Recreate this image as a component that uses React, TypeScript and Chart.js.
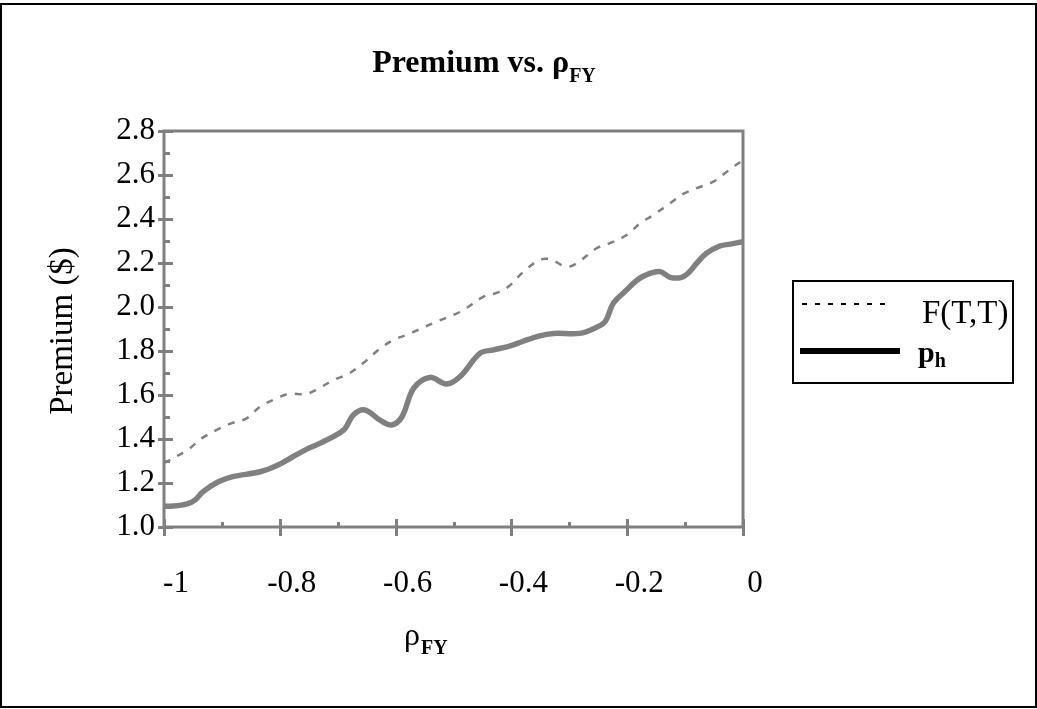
import React, { useEffect, useRef } from "react";
import { Chart, registerables } from "chart.js";

Chart.register(...registerables);

// F(T,T) series (dashed)
const fX = [-1.0, -0.958, -0.935, -0.903, -0.883, -0.857, -0.834, -0.805, -0.785, -0.754, -0.733, -0.705, -0.682, -0.653, -0.63, -0.604, -0.581, -0.555, -0.529, -0.5, -0.483, -0.448, -0.428, -0.405, -0.379, -0.351, -0.333, -0.305, -0.287, -0.253, -0.23, -0.201, -0.178, -0.155, -0.126, -0.103, -0.08, -0.051, -0.028, 0];
const fY = [1.29, 1.353, 1.403, 1.449, 1.472, 1.494, 1.547, 1.585, 1.605, 1.605, 1.63, 1.671, 1.695, 1.751, 1.805, 1.85, 1.873, 1.903, 1.934, 1.964, 1.986, 2.047, 2.062, 2.093, 2.161, 2.214, 2.217, 2.183, 2.199, 2.267, 2.29, 2.327, 2.38, 2.418, 2.471, 2.514, 2.54, 2.57, 2.615, 2.668];

// p_h series (solid)
const pX = [-1.0, -0.984, -0.96, -0.946, -0.933, -0.906, -0.881, -0.834, -0.803, -0.779, -0.754, -0.731, -0.69, -0.673, -0.653, -0.627, -0.607, -0.589, -0.569, -0.541, -0.512, -0.489, -0.454, -0.431, -0.402, -0.382, -0.353, -0.327, -0.282, -0.253, -0.238, -0.224, -0.204, -0.181, -0.161, -0.143, -0.126, -0.106, -0.092, -0.08, -0.063, -0.04, -0.022, 0];
const pY = [1.095, 1.095, 1.105, 1.123, 1.16, 1.206, 1.229, 1.251, 1.282, 1.317, 1.353, 1.38, 1.44, 1.509, 1.532, 1.486, 1.464, 1.501, 1.63, 1.68, 1.65, 1.683, 1.79, 1.805, 1.823, 1.842, 1.868, 1.88, 1.88, 1.908, 1.934, 2.017, 2.07, 2.126, 2.153, 2.161, 2.135, 2.135, 2.161, 2.199, 2.244, 2.277, 2.286, 2.297];

const xMin = -1;
const xMax = 0;
const xStep = 0.2;
const yMin = 1.0;
const yMax = 2.8;
const yStep = 0.2;

const titleMain = "Premium vs. ";
const rhoSymbol = "ρ";
const rhoSub = "FY";
const yTitle = "Premium ($)";
const legendF = "F(T,T)";
const legendP = "p";
const legendPSub = "h";

const SERIF = '"Liberation Serif", "Times New Roman", Times, serif';
const GREY = "#808080";

const decor = {
  id: "decor",
  beforeDatasetsDraw(chart: any) {
    const ctx = chart.ctx as CanvasRenderingContext2D;
    const { left, right, top, bottom } = chart.chartArea;
    const xs = chart.scales.x;
    const ys = chart.scales.y;
    ctx.save();
    ctx.strokeStyle = GREY;
    ctx.lineWidth = 3;
    ctx.strokeRect(left, top, right - left, bottom - top);
    // y ticks
    for (let i = 0; i <= Math.round((yMax - yMin) / 0.1); i++) {
      const v = yMin + i * 0.1;
      const py = Math.round(ys.getPixelForValue(v)) + 0.5;
      const major = i % 2 === 0;
      ctx.lineWidth = 3;
      ctx.beginPath();
      ctx.moveTo(major ? left - 6 : left, py);
      ctx.lineTo(major ? left + 9 : left + 6, py);
      ctx.stroke();
    }
    // x ticks
    for (let i = 0; i <= Math.round((xMax - xMin) / 0.1); i++) {
      const v = xMin + i * 0.1;
      const px = Math.round(xs.getPixelForValue(v)) + 0.5;
      const major = i % 2 === 0;
      ctx.beginPath();
      ctx.moveTo(px, major ? bottom - 8 : bottom - 5);
      ctx.lineTo(px, major ? bottom + 9 : bottom);
      ctx.stroke();
    }
    ctx.restore();
  },
  afterDraw(chart: any) {
    const ctx = chart.ctx as CanvasRenderingContext2D;
    ctx.save();
    // outer frame
    ctx.fillStyle = "#000";
    ctx.fillRect(0, 3, 1037, 2);
    ctx.fillRect(0, 706, 1037, 2);
    ctx.fillRect(0, 3, 2, 705);
    ctx.fillRect(1035, 3, 2, 705);

    // title
    ctx.textBaseline = "alphabetic";
    ctx.textAlign = "left";
    ctx.font = `bold 32px ${SERIF}`;
    const w1 = ctx.measureText(titleMain).width;
    const w2 = ctx.measureText(rhoSymbol).width;
    ctx.font = `bold 20px ${SERIF}`;
    const w3 = ctx.measureText(rhoSub).width;
    const total = w1 + w2 + w3;
    const tx = 484 - total / 2;
    ctx.font = `bold 32px ${SERIF}`;
    ctx.fillText(titleMain, tx, 72);
    ctx.fillText(rhoSymbol, tx + w1, 72);
    ctx.font = `bold 20px ${SERIF}`;
    ctx.fillText(rhoSub, tx + w1 + w2, 82);

    // x title
    ctx.font = `32px ${SERIF}`;
    const rw = ctx.measureText(rhoSymbol).width;
    ctx.fillText(rhoSymbol, 404, 645);
    ctx.font = `bold 20px ${SERIF}`;
    ctx.fillText(rhoSub, 405 + rw, 654);

    // y title
    ctx.save();
    ctx.translate(63, 331);
    ctx.rotate(-Math.PI / 2);
    ctx.font = `33px ${SERIF}`;
    ctx.textAlign = "center";
    ctx.textBaseline = "middle";
    ctx.fillText(yTitle, 0, 0);
    ctx.restore();

    // legend
    ctx.strokeStyle = "#000";
    ctx.lineWidth = 2;
    ctx.strokeRect(793, 281, 220, 102);
    ctx.setLineDash([5, 8]);
    ctx.lineWidth = 2;
    ctx.beginPath();
    ctx.moveTo(802, 304);
    ctx.lineTo(892, 304);
    ctx.stroke();
    ctx.setLineDash([]);
    ctx.lineWidth = 6;
    ctx.beginPath();
    ctx.moveTo(800, 351);
    ctx.lineTo(900, 351);
    ctx.stroke();
    ctx.fillStyle = "#000";
    ctx.textAlign = "left";
    ctx.textBaseline = "alphabetic";
    ctx.font = `33px ${SERIF}`;
    ctx.fillText(legendF, 922, 323);
    ctx.font = `bold 30px ${SERIF}`;
    const pw = ctx.measureText(legendP).width;
    ctx.fillText(legendP, 918, 362);
    ctx.font = `bold 20px ${SERIF}`;
    ctx.fillText(legendPSub, 918 + pw, 367);
    ctx.restore();
  },
};

export default function App() {
  const ref = useRef<HTMLCanvasElement>(null);
  useEffect(() => {
    const canvas = ref.current!;
    const chart = new Chart(canvas, {
      type: "line",
      data: {
        datasets: [
          {
            label: legendF,
            data: fX.map((x, i) => ({ x, y: fY[i] })),
            borderColor: GREY,
            borderWidth: 2.5,
            borderDash: [7, 8],
            pointRadius: 0,
            tension: 0.35,
            fill: false,
          },
          {
            label: legendP + legendPSub,
            data: pX.map((x, i) => ({ x, y: pY[i] })),
            borderColor: GREY,
            borderWidth: 5.5,
            pointRadius: 0,
            tension: 0.35,
            fill: false,
          },
        ],
      },
      options: {
        animation: false,
        responsive: false,
        devicePixelRatio: 1,
        layout: { padding: { left: 0, top: 131, right: 294, bottom: 0 } },
        plugins: {
          legend: { display: false },
          title: { display: false },
          tooltip: { enabled: false },
        },
        scales: {
          x: {
            type: "linear",
            min: xMin,
            max: xMax,
            grid: { display: false, drawTicks: false },
            border: { display: false },
            afterFit: (s: any) => {
              s.height = 182;
            },
            ticks: {
              stepSize: xStep,
              color: "#000",
              font: { family: SERIF, size: 31 },
              padding: 38,
              labelOffset: 12,
              maxRotation: 0,
              callback: (v: any) => {
                const r = Math.round(Number(v) * 10) / 10;
                return r === 0 ? "0" : String(r);
              },
            },
          },
          y: {
            type: "linear",
            min: yMin,
            max: yMax,
            grid: { display: false, drawTicks: false },
            border: { display: false },
            afterFit: (s: any) => {
              s.width = 164;
            },
            ticks: {
              stepSize: yStep,
              color: "#000",
              font: { family: SERIF, size: 31 },
              padding: 9,
              callback: (v: any) => Number(v).toFixed(1),
            },
          },
        },
      },
      plugins: [decor],
    });
    return () => chart.destroy();
  }, []);
  return (
    <div style={{ position: "fixed", left: 0, top: 0, width: 1037, height: 709, background: "#fff" }}>
      <canvas ref={ref} width={1037} height={709} style={{ display: "block", width: 1037, height: 709 }} />
    </div>
  );
}
